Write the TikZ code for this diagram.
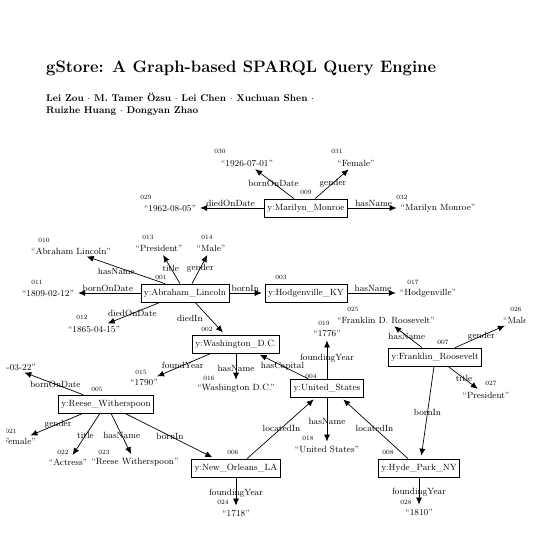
\documentclass[tikz,border=0pt]{standalone}
\usetikzlibrary{arrows.meta}
\begin{document}
\begin{tikzpicture}[x=1pt,y=-1pt,
  ent/.style={draw, line width=0.7pt, font=\fontsize{9}{10}\selectfont, inner xsep=3pt, inner ysep=2pt, minimum height=18pt},
  lit/.style={font=\fontsize{9}{10}\selectfont, inner sep=1pt},
  num/.style={font=\fontsize{6.5}{7}\selectfont, inner sep=0pt},
  el/.style={font=\fontsize{9}{10}\selectfont, inner sep=1pt},
  arr/.style={-{Latex[length=7pt,width=6pt]}, line width=0.7pt, shorten >=3pt}]
\useasboundingbox (0,0) rectangle (544,533);
\clip (6,0) rectangle (525.5,533);

% title
\node[anchor=base west, inner sep=0, font=\fontsize{16.6}{19}\selectfont\bfseries] (title) at (46,72) {gStore: A Graph-based SPARQL Query Engine};
\node[anchor=north west, inner sep=0, align=left, font=\fontsize{9.8}{12}\selectfont\bfseries] (auth) at (46,92.5) {Lei Zou $\cdot$ M. Tamer Özsu $\cdot$ Lei Chen $\cdot$ Xuchuan Shen $\cdot$\\Ruizhe Huang $\cdot$ Dongyan Zhao};

% Marilyn
\node[ent] (e009) at (306,208) {y:Marilyn\_Monroe};
\node[num] (n009) at (306,192) {009};
\node[lit] (l030) at (247,163) {``1926-07-01''};
\node[num] (n030) at (220,151) {030};
\node[lit] (l031) at (356,163) {``Female''};
\node[num] (n031) at (337,151) {031};
\node[lit] (l029) at (170,208) {``1962-08-05''};
\node[num] (n029) at (146,197) {029};
\node[lit] (l032) at (438,208) {``Marilyn Monroe''};
\node[num] (n032) at (402,197) {032};

% Lincoln
\node[ent] (e001) at (185,293) {y:Abraham\_Lincoln};
\node[num] (n001) at (161,277) {001};
\node[lit] (l010) at (71,251) {``Abraham Lincoln''};
\node[num] (n010) at (44,240) {010};
\node[lit] (l013) at (159,248) {``President''};
\node[num] (n013) at (148,237) {013};
\node[lit] (l014) at (211,248) {``Male''};
\node[num] (n014) at (207,237) {014};
\node[lit] (l011) at (48,293) {``1809-02-12''};
\node[num] (n011) at (37,282) {011};
\node[lit] (l012) at (94,329) {``1865-04-15''};
\node[num] (n012) at (82,317) {012};

% Hodgenville
\node[ent] (e003) at (306,293) {y:Hodgenville\_KY};
\node[num] (n003) at (281,277) {003};
\node[lit] (l017) at (428,293) {``Hodgenville''};
\node[num] (n017) at (413,282) {017};

% Washington
\node[ent] (e002) at (236,344) {y:Washington\_D.C.};
\node[num] (n002) at (207,329) {002};
\node[lit] (l015) at (144,382) {``1790''};
\node[num] (n015) at (141,372) {015};
\node[lit] (l016) at (236,388) {``Washington D.C.''};
\node[num] (n016) at (209,378) {016};

% United States
\node[ent] (e004) at (327,388) {y:United\_States};
\node[num] (n004) at (311,376) {004};
\node[lit] (l019) at (327,333) {``1776''};
\node[num] (n019) at (324,323) {019};
\node[lit] (l018) at (327,449) {``United States''};
\node[num] (n018) at (308,438) {018};

% New Orleans
\node[ent] (e006) at (236,468) {y:New\_Orleans\_LA};
\node[num] (n006) at (233,452) {006};
\node[lit] (l024) at (236,513) {``1718''};
\node[num] (n024) at (223,502) {024};

% Hyde Park
\node[ent] (e008) at (419,468) {y:Hyde\_Park\_NY};
\node[num] (n008) at (388,452) {008};
\node[lit] (l028) at (419,512) {``1810''};
\node[num] (n028) at (406,502) {028};

% Roosevelt
\node[ent] (e007) at (435,357) {y:Franklin\_Roosevelt};
\node[num] (n007) at (443,342) {007};
\node[lit] (l025) at (386,320) {``Franklin D. Roosevelt''};
\node[num] (n025) at (353,309) {025};
\node[lit, anchor=west] (l026) at (502,320) {``Male''};
\node[num] (n026) at (516,309) {026};
\node[lit] (l027) at (486,395) {``President''};
\node[num] (n027) at (491,383) {027};

% Reese
\node[ent] (e005) at (106,404) {y:Reese\_Witherspoon};
\node[num] (n005) at (97,389) {005};
\node[lit, anchor=east] (l020) at (37,367) {``1976-03-22''};
\node[lit, anchor=east] (l021) at (37,441) {``Female''};
\node[num] (n021) at (11,431) {021};
\node[lit] (l022) at (68,462) {``Actress''};
\node[num] (n022) at (63,452) {022};
\node[lit] (l023) at (135,462) {``Reese Witherspoon''};
\node[num] (n023) at (104,452) {023};

% ---- edges ----
\draw[arr] ([xshift=-12pt]e009.north) -- (l030) node[el, pos=.5] {bornOnDate};
\draw[arr] ([xshift=9pt]e009.north) -- (l031) node[el, pos=.5] {gender};
\draw[arr] (e009.west) -- (l029) node[el, pos=.5, above] {diedOnDate};
\draw[arr] (e009.east) -- (l032) node[el, pos=.5, above] {hasName};

\draw[arr] ([xshift=-20pt]e001.north) -- (l010) node[el, pos=.6, yshift=-5pt] {hasName};
\draw[arr] ([xshift=-5pt]e001.north) -- (l013) node[el, pos=.5] {title};
\draw[arr] ([xshift=7pt]e001.north) -- (l014) node[el, pos=.5] {gender};
\draw[arr] (e001.west) -- (l011) node[el, pos=.5, above] {bornOnDate};
\draw[arr] ([xshift=-25pt]e001.south) -- (l012) node[el, pos=.5] {diedOnDate};
\draw[arr] (e001.east) -- (e003.west) node[el, pos=.45, above] {bornIn};
\draw[arr] (e003.east) -- (l017) node[el, pos=.5, above] {hasName};
\draw[arr] ([xshift=10pt]e001.south) -- ([xshift=-11pt]e002.north) node[el, pos=.5, left=6pt] {diedIn};

\draw[arr] ([xshift=-25pt]e002.south) -- (l015) node[el, pos=.5] {foundYear};
\draw[arr] (e002.south) -- (l016) node[el, pos=.5] {hasName};
\draw[arr] ([xshift=-19pt]e004.north) -- ([xshift=21pt]e002.south) node[el, pos=.5] {hasCapital};
\draw[arr] (e004.north) -- (l019) node[el, pos=.5] {foundingYear};
\draw[arr] (e004.south) -- (l018) node[el, pos=.5] {hasName};
\draw[arr] ([xshift=11pt]e006.north) -- ([xshift=-11pt]e004.south) node[el, pos=.5] {locatedIn};
\draw[arr] ([xshift=-11pt]e008.north) -- ([xshift=14pt]e004.south) node[el, pos=.5] {locatedIn};
\draw[arr] (e006.south) -- (l024) node[el, pos=.5] {foundingYear};
\draw[arr] (e008.south) -- (l028) node[el, pos=.5] {foundingYear};

\draw[arr] ([xshift=-13pt]e007.north) -- (l025) node[el, pos=.5] {hasName};
\draw[arr] ([xshift=20pt]e007.north) -- (l026) node[el, pos=.5] {gender};
\draw[arr] ([xshift=13pt]e007.south) -- (l027) node[el, pos=.5] {title};
\draw[arr] ([xshift=-1pt]e007.south) -- ([xshift=2pt]e008.north) node[el, pos=.5] {bornIn};

\draw[arr] ([xshift=-23pt]e005.north) -- (l020) node[el, pos=.45] {bornOnDate};
\draw[arr] ([xshift=-23pt]e005.south) -- (l021) node[el, pos=.45] {gender};
\draw[arr] ([xshift=-6pt]e005.south) -- (l022) node[el, pos=.5] {title};
\draw[arr] ([xshift=5pt]e005.south) -- (l023) node[el, pos=.5] {hasName};
\draw[arr] ([xshift=19pt]e005.south) -- ([xshift=-21pt]e006.north) node[el, pos=.5] {bornIn};
\end{tikzpicture}
\end{document}
